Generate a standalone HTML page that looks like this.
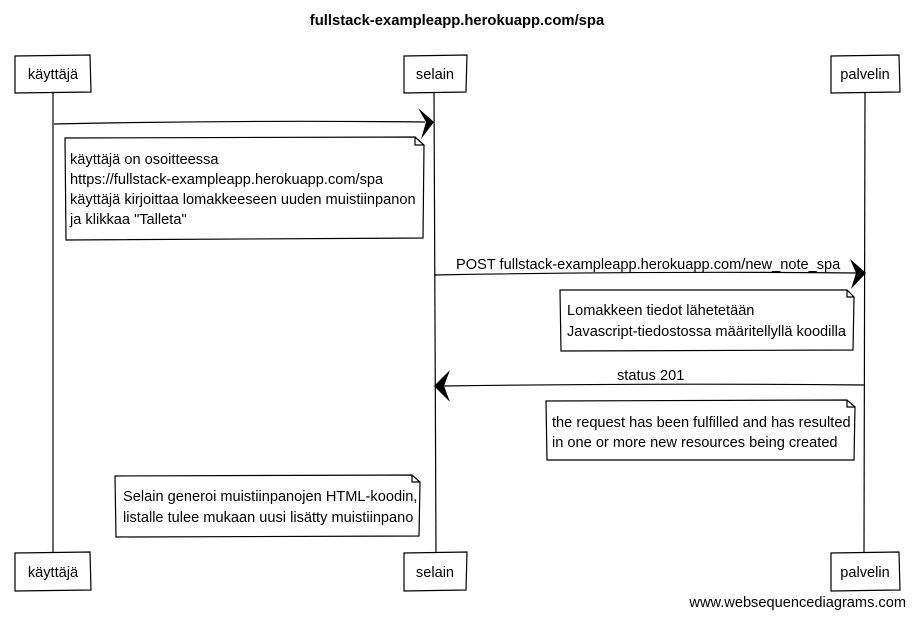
<!DOCTYPE html>
<html><head><meta charset="utf-8"><style>
html,body{margin:0;padding:0;background:#fff;}
svg{display:block;font-family:"Liberation Sans",Arial,sans-serif;}
text{font-size:14.6px;fill:#000;}
</style></head><body>
<svg width="915" height="617" viewBox="0 0 915 617" xmlns="http://www.w3.org/2000/svg">
<text x="457" y="25" text-anchor="middle" style="font-weight:bold;font-size:14.8px">fullstack-exampleapp.herokuapp.com/spa</text>
<g fill="none" stroke="#000" stroke-width="1.2">
<line x1="53" y1="92" x2="53" y2="553"/>
<line x1="434" y1="92" x2="436" y2="553"/>
<line x1="865" y1="92" x2="864" y2="553"/>
<path d="M15,56 L90,55 L91,92 L15,93 Z" fill="#fff"/>
<path d="M404,56 L467,55 L466,92 L404,93 Z" fill="#fff"/>
<path d="M831,56 L899,55 L900,92 L831,93 Z" fill="#fff"/>
<path d="M15,553 L90,552 L91,590 L15,591 Z" fill="#fff"/>
<path d="M404,553 L467,552 L466,590 L404,591 Z" fill="#fff"/>
<path d="M831,553 L899,552 L900,590 L831,591 Z" fill="#fff"/>
<path d="M54,124 Q240,120 425,122"/>
<path d="M65,138 L415,137 L424,145 L423,238 L66,240 Z" fill="#fff"/>
<path d="M415,137 L415,145 L424,145"/>
<path d="M434,275 Q650,271 858,273"/>
<path d="M560,290 L847,290 L854,297 L853,350 L561,351 Z" fill="#fff"/>
<path d="M847,290 L847,297 L854,297"/>
<path d="M864,385 Q650,383 443,386"/>
<path d="M546,401 L847,400 L855,407 L854,460 L547,460 Z" fill="#fff"/>
<path d="M847,400 L847,407 L855,407"/>
<path d="M115,476 L412,475 L420,482 L419,536 L116,537 Z" fill="#fff"/>
<path d="M412,475 L412,482 L420,482"/>
</g>
<path d="M418,108 L434,122 L421,139 L426,122 Z" fill="#000"/>
<path d="M850,259 L866,273 L851,289 L856,273 Z" fill="#000"/>
<path d="M450,370 L434,386 L450,402 L444,386 Z" fill="#000"/>
<text x="53" y="79" text-anchor="middle">käyttäjä</text>
<text x="435" y="79" text-anchor="middle">selain</text>
<text x="865" y="79" text-anchor="middle">palvelin</text>
<text x="53" y="577" text-anchor="middle">käyttäjä</text>
<text x="435" y="577" text-anchor="middle">selain</text>
<text x="865" y="577" text-anchor="middle">palvelin</text>
<text x="70" y="164">käyttäjä on osoitteessa</text>
<text x="70" y="184">https://fullstack-exampleapp.herokuapp.com/spa</text>
<text x="70" y="204">käyttäjä kirjoittaa lomakkeeseen uuden muistiinpanon</text>
<text x="70" y="224">ja klikkaa "Talleta"</text>
<text x="456" y="269">POST fullstack-exampleapp.herokuapp.com/new_note_spa</text>
<text x="567" y="315">Lomakkeen tiedot lähetetään</text>
<text x="567" y="336">Javascript-tiedostossa määritellyllä koodilla</text>
<text x="617" y="380">status 201</text>
<text x="552" y="427">the request has been fulfilled and has resulted</text>
<text x="552" y="447">in one or more new resources being created</text>
<text x="123" y="501">Selain generoi muistiinpanojen HTML-koodin,</text>
<text x="123" y="522">listalle tulee mukaan uusi lisätty muistiinpano</text>
<text x="906" y="607" text-anchor="end">www.websequencediagrams.com</text>
</svg>
</body></html>
